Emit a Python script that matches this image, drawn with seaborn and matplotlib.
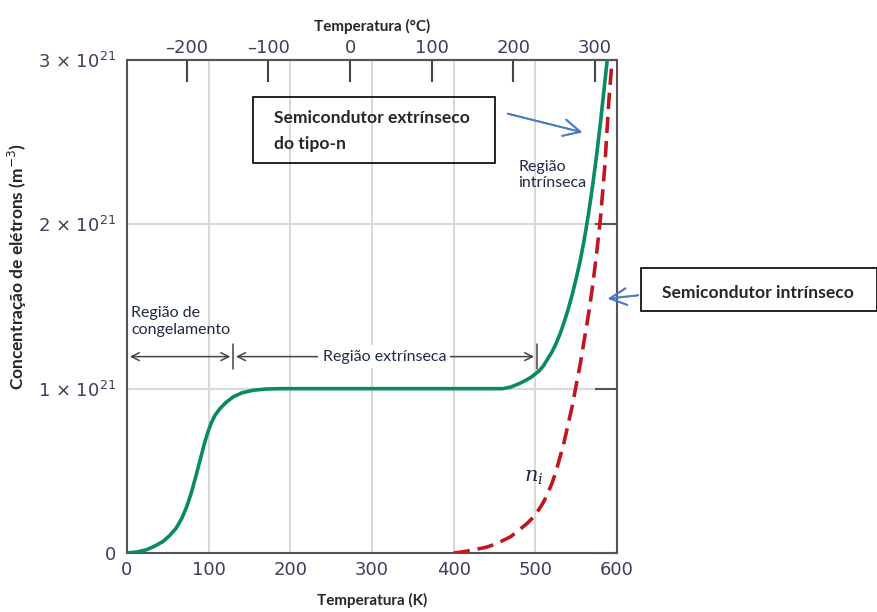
import numpy as np
import pandas as pd
import matplotlib
matplotlib.use("Agg")
import matplotlib.pyplot as plt
from matplotlib.patches import Rectangle
import seaborn as sns

# curves, concentration in units of 1e21 m^-3
temp_ext = [0, 12, 24, 34, 44, 52, 60, 67, 73, 79, 85, 90, 95, 99, 103, 108, 114, 121, 130, 141, 154, 170, 190,
            300, 400, 460, 470, 480, 488, 495, 500, 505, 510, 515, 520, 525, 530, 535, 540, 545, 550, 555,
            560, 565, 570, 575, 580, 585, 588]
n_ext = [0, 0.006, 0.02, 0.042, 0.07, 0.105, 0.15, 0.21, 0.28, 0.37, 0.48, 0.575, 0.67, 0.735, 0.79, 0.84, 0.88,
         0.915, 0.95, 0.975, 0.99, 0.998, 1.0,
         1.0, 1.0, 1.0, 1.01, 1.03, 1.05, 1.07, 1.09, 1.11, 1.14, 1.18, 1.22, 1.27, 1.33, 1.40, 1.48, 1.57, 1.67,
         1.78, 1.91, 2.06, 2.23, 2.42, 2.63, 2.86, 3.0]

temp_int = [400, 410, 420, 430, 440, 450, 460, 470, 480, 490, 500, 505, 510, 515, 520, 525, 530, 535, 540, 545,
            550, 555, 560, 565, 570, 575, 580, 585, 590, 594]
n_int = [0, 0.006, 0.015, 0.025, 0.035, 0.052, 0.075, 0.1, 0.14, 0.18, 0.23, 0.27, 0.31, 0.36, 0.42, 0.49, 0.58,
         0.67, 0.78, 0.89, 1.02, 1.15, 1.3, 1.45, 1.62, 1.82, 2.05, 2.35, 2.75, 3.0]

xticks_k = [0, 100, 200, 300, 400, 500, 600]
xticks_c = [-200, -100, 0, 100, 200, 300]
yticks = [0, 1, 2, 3]
ytick_labels = ["0", "1 × 10$^{21}$", "2 × 10$^{21}$", "3 × 10$^{21}$"]

sns.set_style("white")
plt.rcParams["font.family"] = ["DejaVu Sans"]

W, H = 877, 612
fig = plt.figure(figsize=(W / 100, H / 100), dpi=100)
ax = fig.add_axes([127 / W, 1 - 553 / H, 490 / W, 493 / H])


def fx(px):
    return px / W


def fy(py):
    return 1 - py / H


df_ext = pd.DataFrame({"T": temp_ext, "n": n_ext})
df_int = pd.DataFrame({"T": temp_int, "n": n_int})

# grid first so curves are on top
for t in xticks_k[1:-1]:
    ax.axvline(t, color="#d9d9d9", lw=1.5, zorder=0)
for v in yticks[1:-1]:
    ax.axhline(v, color="#d9d9d9", lw=1.5, zorder=0)

sns.lineplot(data=df_int, x="T", y="n", ax=ax, color="#c0161f", lw=2.6,
             dashes=False, zorder=3, estimator=None, sort=False)
ax.lines[-1].set_dashes([4.5, 2.2])
sns.lineplot(data=df_ext, x="T", y="n", ax=ax, color="#0a8a60", lw=2.6,
             estimator=None, sort=False, zorder=4)

ax.set_xlim(0, 600)
ax.set_ylim(0, 3)
ax.set_xticks(xticks_k)
ax.set_yticks(yticks)
ax.set_yticklabels(ytick_labels)

tick_col = "#3d3d5c"
ax.tick_params(axis="x", direction="in", length=16, width=1.5, color="#444444",
               labelsize=13, labelcolor=tick_col, pad=6)
ax.tick_params(axis="y", direction="in", length=16, width=1.5, color="#555555",
               labelsize=13, labelcolor=tick_col, right=True, pad=8)
for s in ax.spines.values():
    s.set_color("#555555")
    s.set_linewidth(1.5)

ax.set_xlabel("Temperatura (K)", family="Lato", fontweight="bold", fontsize=11, labelpad=10)
ax.set_ylabel("Concentração de elétrons (m$^{-3}$)", family="Lato", fontweight="bold", fontsize=12.5)
ax.yaxis.set_label_coords(-0.2, 0.58)

sec = ax.secondary_xaxis("top", functions=(lambda k: k - 273.15, lambda c: c + 273.15))
sec.set_xticks(xticks_c)
sec.set_xticklabels(["–200", "–100", "0", "100", "200", "300"])
sec.tick_params(direction="in", length=16, width=1.5, color="#444444",
                labelsize=13, labelcolor=tick_col, pad=2)
sec.spines["top"].set_color("#555555")
sec.spines["top"].set_linewidth(1.5)
sec.set_xlabel("Temperatura (°C)", family="Lato", fontweight="bold", fontsize=11, labelpad=6)

# region arrows
txt_col = "#1e2a45"
ya = 1.195
ax.annotate("", xy=(0, ya), xytext=(130, ya),
            arrowprops=dict(arrowstyle="<->", color="#444444", lw=1.1, mutation_scale=14))
ax.annotate("", xy=(130, ya), xytext=(502, ya),
            arrowprops=dict(arrowstyle="<->", color="#444444", lw=1.1, mutation_scale=14))
ax.plot([130, 130], [1.12, 1.27], color="#444444", lw=1.1)
ax.plot([502, 502], [1.12, 1.27], color="#444444", lw=1.1)
ax.text(315, ya, "Região extrínseca", family="Lato", fontsize=11.5, color=txt_col, ha="center", va="center",
        bbox=dict(facecolor="white", edgecolor="none", pad=3), zorder=5)
ax.text(5, 1.41, "Região de\ncongelamento", family="Lato", fontsize=11.5, color=txt_col,
        ha="left", va="center", linespacing=1.25)
ax.text(479, 2.3, "Região\nintrínseca", family="Lato", fontsize=11.5, color=txt_col,
        ha="left", va="center", linespacing=1.25)
ax.text(486, 0.46, "$n_i$", fontsize=15, color=txt_col, ha="left", va="center",
        math_fontfamily="dejavuserif")

# callout boxes
fig.patches.append(Rectangle((fx(253), fy(163)), fx(495) - fx(253), fy(97) - fy(163),
                             transform=fig.transFigure, fill=False, edgecolor="black", lw=1.2))
fig.text(fx(274), fy(131), "Semicondutor extrínseco\ndo tipo-n", family="Lato", fontweight="bold",
         fontsize=12.6, ha="left", va="center", linespacing=1.75)
fig.patches.append(Rectangle((fx(641), fy(311)), fx(877) - fx(641), fy(268) - fy(311),
                             transform=fig.transFigure, fill=False, edgecolor="black", lw=1.2))
fig.text(fx(662), fy(293), "Semicondutor intrínseco", family="Lato", fontweight="bold",
         fontsize=12.6, ha="left", va="center")

blue = "#4a7cc4"
fig.add_artist(plt.annotate("", xy=(fx(585), fy(133)), xytext=(fx(505), fy(113)),
                            xycoords="figure fraction", textcoords="figure fraction",
                            arrowprops=dict(arrowstyle="->", color=blue, lw=1.3, mutation_scale=30)))
fig.add_artist(plt.annotate("", xy=(fx(605), fy(299)), xytext=(fx(641), fy(295)),
                            xycoords="figure fraction", textcoords="figure fraction",
                            arrowprops=dict(arrowstyle="->", color=blue, lw=1.3, mutation_scale=30)))

fig.savefig("out.png", dpi=100)
